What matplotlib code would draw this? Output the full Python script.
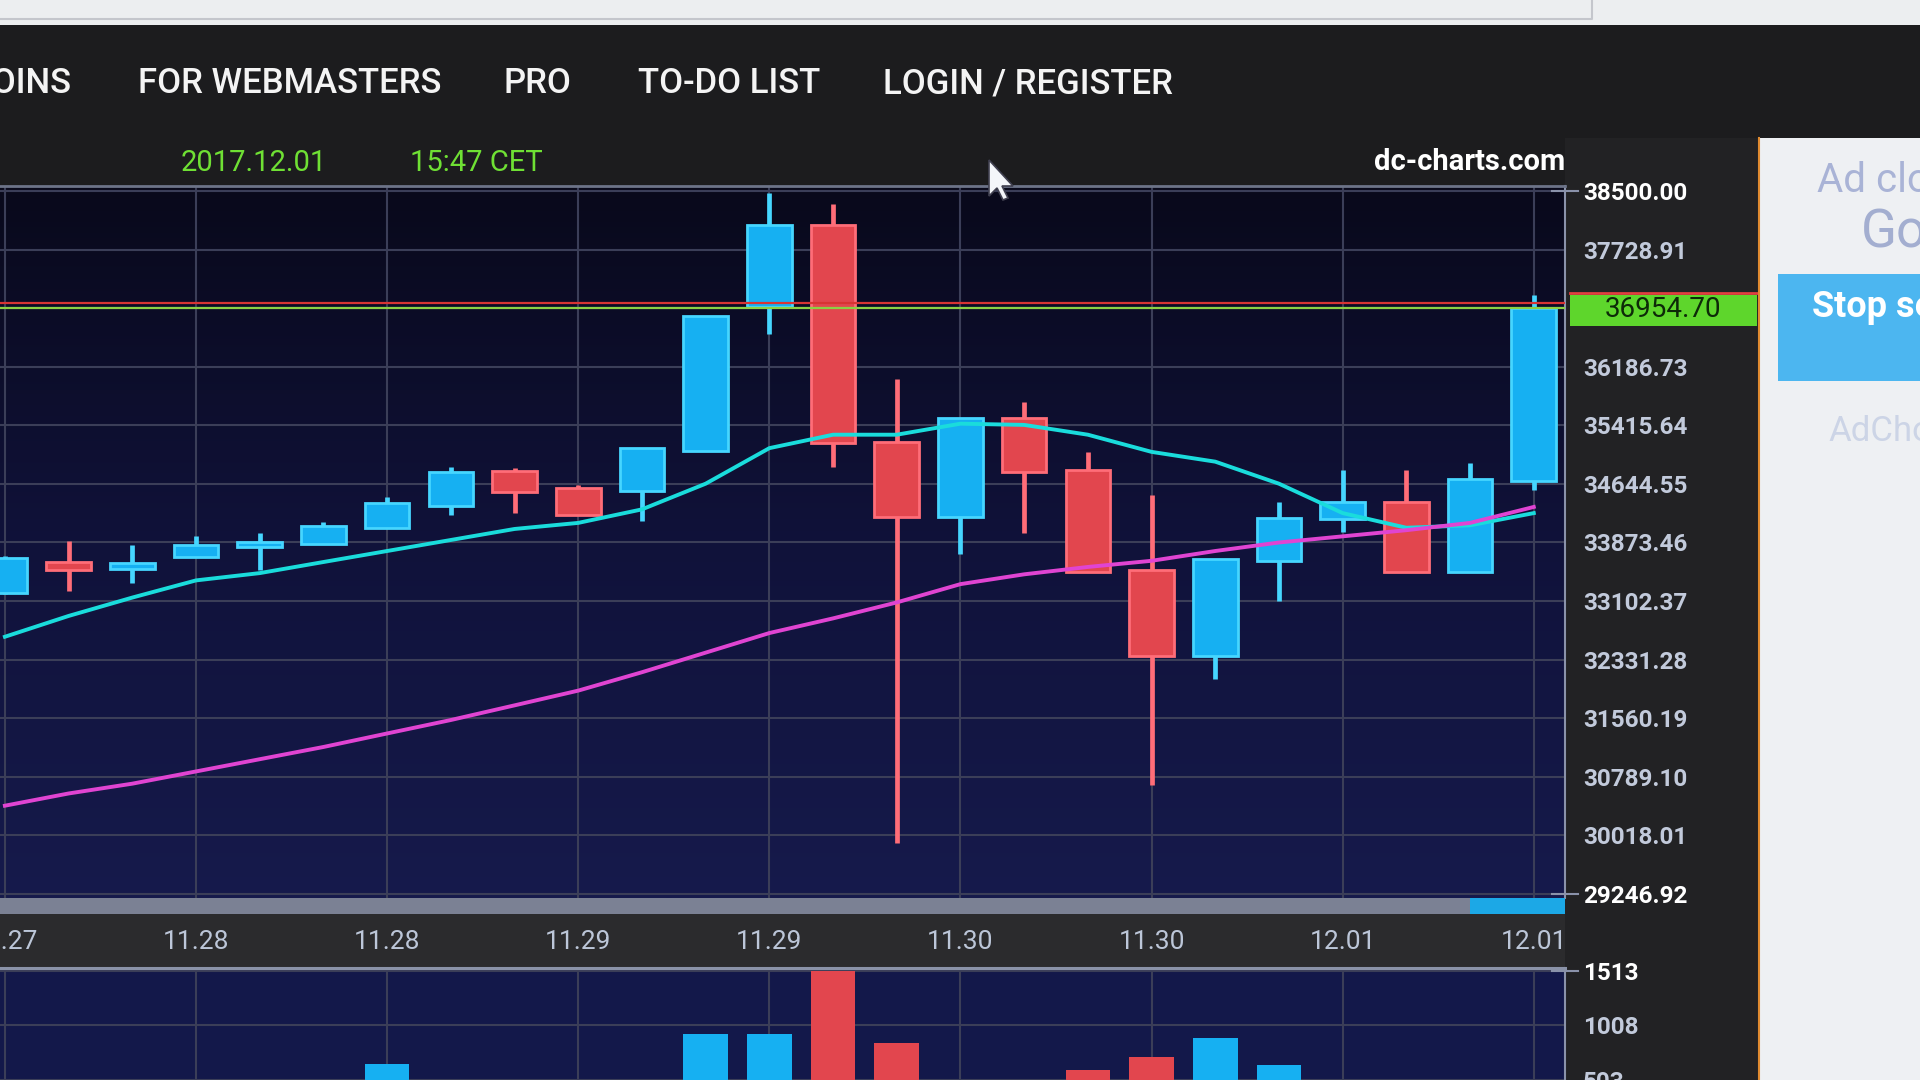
import numpy as np
import matplotlib
matplotlib.use("Agg")
import matplotlib.pyplot as plt
from matplotlib.patches import Rectangle, Polygon
from matplotlib.lines import Line2D
from matplotlib.colors import LinearSegmentedColormap
from matplotlib.transforms import blended_transform_factory

W, H = 1920, 1080
FONT = "Roboto"

# BTC 4h candles, 2017.11.27 .. 2017.12.01 15:47 CET
opens = [33212, 33620, 33519, 33680, 33809, 33852, 34060, 34354, 34818, 34586,
         34551, 35083, 36968, 38053, 35200, 34204, 35517, 34828, 33508, 32384,
         33633, 34178, 34410, 33488, 34684]
highs = [33690, 33897, 33841, 33958, 33994, 34147, 34476, 34871, 34849, 34629,
         35115, 36855, 38470, 38329, 36020, 35517, 35727, 35068, 34499, 33662,
         34410, 34828, 34828, 34915, 37125]
lows = [33190, 33238, 33341, 33680, 33510, 33852, 34060, 34233, 34265, 34235,
        34156, 35083, 36614, 34871, 29922, 33717, 33994, 33488, 30678, 32078,
        33100, 34015, 33488, 33488, 34568]
closes = [33664, 33510, 33599, 33841, 33873, 34089, 34389, 34805, 34542, 34235,
          35115, 36855, 38053, 35189, 34204, 35517, 34797, 33488, 32384, 33662,
          34199, 34410, 33488, 34705, 36954.70]
ma_fast = [32632, 32906, 33148, 33374, 33470, 33616, 33761, 33906, 34051, 34131,
           34309, 34647, 35115, 35292, 35292, 35437, 35421, 35292, 35066, 34937,
           34647, 34260, 34067, 34099, 34260]
ma_slow = [30408, 30569, 30698, 30859, 31020, 31181, 31359, 31536, 31729, 31923,
           32165, 32423, 32681, 32874, 33084, 33325, 33454, 33551, 33632, 33761,
           33873, 33954, 34035, 34131, 34341]
volumes = [380, 310, 260, 340, 300, 420, 650, 400, 380, 360,
           430, 926, 926, 1513, 849, 420, 400, 598, 717, 892,
           644, 380, 420, 440, 430]

price_ticks = [38500.00, 37728.91, 36957.82, 36186.73, 35415.64, 34644.55, 33873.46,
               33102.37, 32331.28, 31560.19, 30789.10, 30018.01, 29246.92]
volume_ticks = [1513, 1008, 503]
date_ticks = [0, 3, 6, 9, 12, 15, 18, 21, 24]
date_labels = ["11.27", "11.28", "11.28", "11.29", "11.29", "11.30", "11.30", "12.01", "12.01"]
last_price = 36954.70
ask_price = 37030
menu_items = ["COINS", "FOR WEBMASTERS", "PRO", "TO-DO LIST", "LOGIN / REGISTER"]

BLUE, BLUE_EDGE = "#16b0f2", "#46d6ff"
RED, RED_EDGE = "#e2464e", "#ff6d78"


def frac(x0, y0, x1, y1):
    return [x0 / W, 1 - y1 / H, (x1 - x0) / W, (y1 - y0) / H]


def add_rect(x0, y0, x1, y1, color, zorder=-5):
    fig.add_artist(Rectangle((x0 / W, 1 - y1 / H), (x1 - x0) / W, (y1 - y0) / H,
                             transform=fig.transFigure, facecolor=color,
                             edgecolor="none", zorder=zorder))


def ftext(x, y, s, **kw):
    kw.setdefault("family", FONT)
    fig.text(x / W, 1 - y / H, s, **kw)


fig = plt.figure(figsize=(19.2, 10.8), dpi=100, facecolor="#1c1c1e")

# page chrome
add_rect(0, 0, W, 25, "#eceef0")
fig.add_artist(Line2D([0, 1592 / W, 1592 / W], [1 - 19 / H, 1 - 19 / H, 1.0],
                      transform=fig.transFigure, color="#c4c6cc", lw=1.5))
add_rect(1565, 138, 1758, H, "#222224")
add_rect(0, 914, 1565, 968, "#2b2b2d")

nav_x = [71, 138, 503, 638, 883]
for i, (x, s) in enumerate(zip(nav_x, menu_items)):
    ftext(x, 84, s, color="#f4f4f4", fontsize=25, weight="medium",
          ha="right" if i == 0 else "left", va="center")
ftext(181, 163, "2017.12.01", color="#6fe034", fontsize=21, va="center")
ftext(410, 163, "15:47 CET", color="#6fe034", fontsize=21, va="center")
ftext(1565, 162, "dc-charts.com", color="white", fontsize=21, weight="bold",
      ha="right", va="center")

# ad panel
add_rect(1760, 138, W, H, "#eef0f3")
fig.add_artist(Line2D([1759 / W, 1759 / W], [0, 1 - 138 / H], transform=fig.transFigure,
                      color="#e08a30", lw=1.5))
ftext(1817, 180, "Ad closed by", color="#a9b3d6", fontsize=29, va="center")
ftext(1861, 232, "Google", color="#a3aed0", fontsize=38, va="center")
add_rect(1778, 274, W, 381, "#4cb6f0", zorder=1)
ftext(1812, 307, "Stop seeing this ad", color="white", fontsize=26, weight="bold", va="center")
ftext(1828, 431, "AdChoices", color="#ccd4e6", fontsize=25, va="center")

# price panel
x_lim = (-0.077, 24.49)
ax_bg = fig.add_axes(frac(0, 186, 1565, 898), zorder=-1)
grad = LinearSegmentedColormap.from_list("bg", ["#09091b", "#10123a", "#161a4c"])
ax_bg.imshow(np.linspace(0, 1, 256).reshape(-1, 1), cmap=grad, aspect="auto",
             extent=[0, 1, 0, 1])
ax_bg.axis("off")

ax = fig.add_axes(frac(0, 186, 1565, 898))
ax.set_facecolor("none")
ax.set_xlim(*x_lim)
ax.set_ylim(29193, 38566)

x = np.arange(len(opens))
o, h, l, c = map(np.asarray, (opens, highs, lows, closes))
up = c >= o
body_col = np.where(up, BLUE, RED)
edge_col = np.where(up, BLUE_EDGE, RED_EDGE)
ax.vlines(x, l, h, colors=edge_col, lw=3.4, zorder=2)
ax.bar(x, np.abs(c - o), bottom=np.minimum(o, c), width=0.7, color=body_col,
       edgecolor=edge_col, linewidth=2, zorder=3)
ax.plot(x, ma_fast, color="#1adcdc", lw=2.8, zorder=4)
ax.plot(x, ma_slow, color="#e044d2", lw=2.8, zorder=4)
ax.axhline(ask_price, color="#d83434", lw=1.6, zorder=5)
ax.axhline(last_price, color="#8cd044", lw=1.6, zorder=5)

ax.set_yticks(price_ticks)
ax.set_yticklabels(["" if abs(v - last_price) < 300 else f"{v:.2f}" for v in price_ticks])
ax.yaxis.tick_right()
ax.set_xticks(date_ticks)
ax.set_xticklabels(date_labels)
ax.tick_params(axis="y", length=0, pad=13, labelsize=17.5, labelcolor="#c2cadb")
ax.tick_params(axis="x", length=0, pad=23, labelsize=19, labelcolor="#bcc6d8")
for lab in ax.get_yticklabels():
    lab.set_fontfamily(FONT)
    lab.set_fontweight("bold")
for lab in ax.get_xticklabels():
    lab.set_fontfamily(FONT)
ylabs = ax.get_yticklabels()
for lab in (ylabs[0], ylabs[-1]):
    lab.set_color("white")
ax.grid(True, color="#3b3e58", lw=1.5, zorder=1)
for side in ["left", "bottom"]:
    ax.spines[side].set_visible(False)
ax.spines["top"].set_color("#6c7388")
ax.spines["top"].set_linewidth(2)
ax.spines["right"].set_color("#8a92aa")
ax.spines["right"].set_linewidth(1.5)

tick_tf = blended_transform_factory(ax.transAxes, ax.transData)
for v in (price_ticks[0], price_ticks[-1]):
    ax.add_line(Line2D([0.992, 1.008], [v, v], transform=tick_tf, color="#8a92aa",
                       lw=1.5, clip_on=False))

# current price tag
tag_tf = blended_transform_factory(fig.transFigure, ax.transData)
ax.add_patch(Rectangle((1570 / W, last_price - 230), 187 / W, 400, transform=tag_tf,
                       facecolor="#5ed62c", edgecolor="none", clip_on=False, zorder=6))
ax.add_line(Line2D([1570 / W, 1757 / W], [last_price + 200] * 2, transform=tag_tf,
                   color="#e04040", lw=2, clip_on=False, zorder=6))
ax.text(1663 / W, last_price - 20, f"{last_price:.2f}", transform=tag_tf, ha="center",
        va="center", fontsize=20, color="#0d2a08", family=FONT, zorder=7, clip_on=False)

# scrollbar
add_rect(0, 898, 1565, 914, "#7b8194", zorder=1)
add_rect(1470, 898, 1565, 914, "#1ca8e6", zorder=1)

# volume panel
axv = fig.add_axes(frac(0, 968, 1565, 1080))
axv.set_facecolor("#13184a")
axv.set_xlim(*x_lim)
axv.set_ylim(577, 1539)
axv.bar(x, volumes, width=0.7, color=body_col, edgecolor="none", zorder=3)
axv.set_yticks(volume_ticks)
axv.set_yticklabels([str(v) for v in volume_ticks])
axv.yaxis.tick_right()
axv.set_xticks(date_ticks)
axv.set_xticklabels([])
axv.tick_params(axis="both", length=0)
axv.tick_params(axis="y", pad=13, labelsize=17.5, labelcolor="#c2cadb")
for lab in axv.get_yticklabels():
    lab.set_fontfamily(FONT)
    lab.set_fontweight("bold")
axv.get_yticklabels()[0].set_color("white")
axv.grid(True, color="#3b3e58", lw=1.5, zorder=1)
for side in ["left", "bottom"]:
    axv.spines[side].set_visible(False)
axv.spines["top"].set_color("#8a92a8")
axv.spines["top"].set_linewidth(2.2)
axv.spines["right"].set_color("#8a92aa")
axv.spines["right"].set_linewidth(1.5)
vt = blended_transform_factory(axv.transAxes, axv.transData)
axv.add_line(Line2D([0.992, 1.008], [1513, 1513], transform=vt, color="#8a92aa",
                    lw=1.5, clip_on=False))

# mouse pointer
tip = np.array([989, 160])
pts = np.array([[0, 0], [0, 36], [8, 28], [14, 40], [19, 38], [13, 26], [24, 26]]) + tip
fig.add_artist(Polygon(np.column_stack([pts[:, 0] / W, 1 - pts[:, 1] / H]),
                       closed=True, transform=fig.transFigure, facecolor="#f4f6fa",
                       edgecolor="#404050", lw=1.2, zorder=10))

fig.savefig("out.png", dpi=100, facecolor=fig.get_facecolor())
